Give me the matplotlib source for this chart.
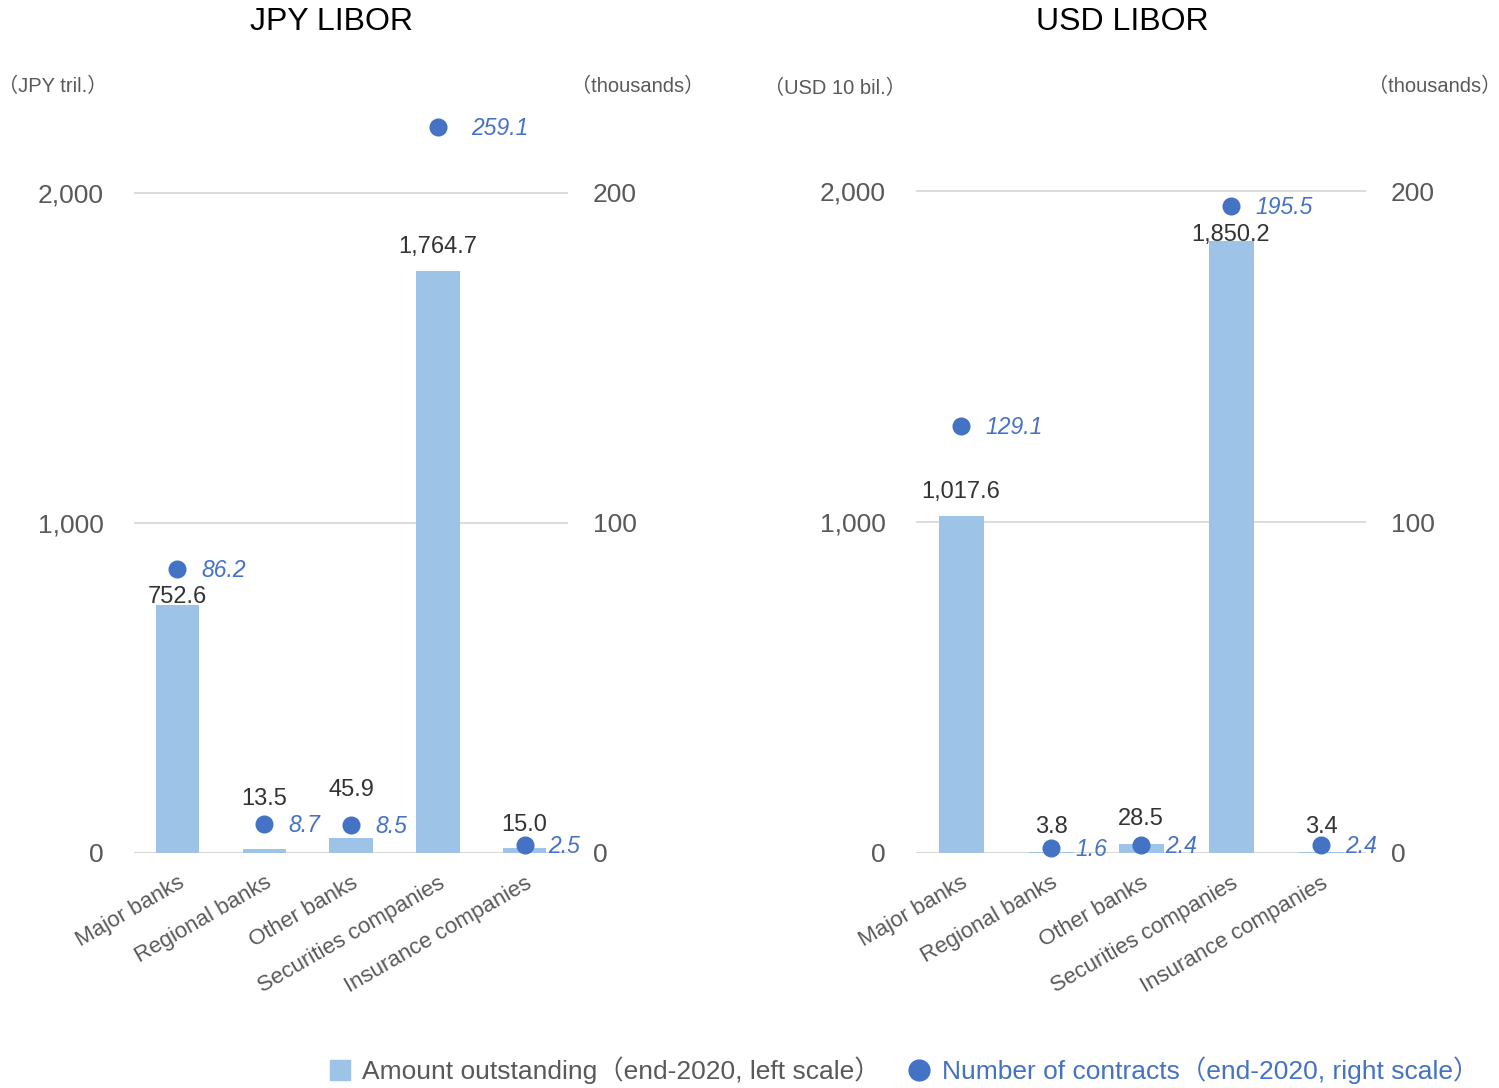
import numpy as np
import matplotlib
matplotlib.use("Agg")
import matplotlib.pyplot as plt
from matplotlib.ticker import FuncFormatter
from matplotlib.lines import Line2D

plt.rcParams['font.family'] = ['Liberation Sans', 'Noto Sans CJK JP', 'DejaVu Sans']

# ---------------- data ----------------
categories = ["Major banks", "Regional banks", "Other banks",
              "Securities companies", "Insurance companies"]
jpy_amount = [752.6, 13.5, 45.9, 1764.7, 15.0]        # JPY tril.
jpy_contracts = [86.2, 8.7, 8.5, 259.1, 2.5]         # thousands
usd_amount = [1017.6, 3.8, 28.5, 1850.2, 3.4]        # USD 10 bil.
usd_contracts = [129.1, 1.6, 2.4, 195.5, 2.4]        # thousands
left_ticks = [0, 1000, 2000]
right_ticks = [0, 100, 200]

# label offsets (pixels above bar top) – styling only
jpy_bar_lab_off = [8, 50, 48, 24, 23]
usd_bar_lab_off = [24, 25, 25, 6, 25]

BAR_C = '#9DC3E6'
DOT_C = '#4472C4'
GRID_C = '#D9D9D9'
TICK_C = '#595959'
LAB_C = '#333333'

W, H = 1499, 1088
fig = plt.figure(figsize=(W / 100, H / 100), dpi=100)
PX = 72 / 100  # points per pixel


def panel(rect, amounts, contracts, bar_offs, left_max, right_max):
    ax = fig.add_axes(rect)
    x = np.arange(len(categories))
    ax.bar(x, amounts, width=0.5, color=BAR_C, zorder=2)
    ax.set_xlim(-0.5, len(categories) - 0.5)
    ax.set_ylim(0, left_max)
    ax.set_yticks(left_ticks)
    ax.yaxis.set_major_formatter(FuncFormatter(lambda v, p: f"{int(v):,}"))
    ax.grid(axis='y', color=GRID_C, lw=1.3, zorder=0)
    ax.axhline(0, color='#D0D0D0', lw=2.2, zorder=1)
    for s in ax.spines.values():
        s.set_visible(False)
    ax.tick_params(axis='y', length=0, pad=22, labelsize=19, labelcolor=TICK_C)
    ax.tick_params(axis='x', length=0, pad=14)
    ax.set_xticks(x)
    ax.set_xticklabels(categories, rotation=30, ha='right',
                       rotation_mode='anchor', fontsize=16, color=TICK_C)
    for i, v in enumerate(amounts):
        ax.annotate(f"{v:,.1f}", (i, v), xytext=(0, bar_offs[i] * PX),
                    textcoords='offset points', ha='center', va='center',
                    fontsize=17, color=LAB_C, zorder=5)

    axr = ax.twinx()
    axr.set_ylim(0, right_max)
    axr.set_yticks(right_ticks)
    for s in axr.spines.values():
        s.set_visible(False)
    axr.tick_params(axis='y', length=0, pad=18, labelsize=19, labelcolor=TICK_C)
    yplot = np.minimum(np.array(contracts), right_max)
    axr.plot(x, yplot, 'o', ms=12, color=DOT_C, clip_on=False, zorder=4,
             linestyle='none')
    for i, (v, yp) in enumerate(zip(contracts, yplot)):
        dx = 24 if v <= right_max else 33
        axr.annotate(f"{v:.1f}", (i, yp), xytext=(dx * PX, -1.5 * PX),
                     textcoords='offset points', ha='left', va='center',
                     fontsize=16.5, color=DOT_C, style='italic', zorder=5)
    return ax, axr


panel([134 / W, 1 - 853 / H, (568 - 134) / W, (853 - 127) / H],
      jpy_amount, jpy_contracts, jpy_bar_lab_off, 2200, 220)
panel([916 / W, 1 - 853 / H, (1366 - 916) / W, (853 - 125) / H],
      usd_amount, usd_contracts, usd_bar_lab_off, 2200, 220)

# titles
fig.text(331 / W, 1 - 22 / H, "JPY LIBOR", ha='center', va='center',
         fontsize=23, color='black')
fig.text(1122 / W, 1 - 22 / H, "USD LIBOR", ha='center', va='center',
         fontsize=23, color='black')

# unit labels
unit_kw = dict(va='center', fontsize=14.5, color=TICK_C)
fig.text(-2 / W, 1 - 86 / H, "（JPY tril.）", ha='left', **unit_kw)
fig.text(704 / W, 1 - 86 / H, "（thousands）", ha='right', **unit_kw)
fig.text(764 / W, 1 - 88 / H, "（USD 10 bil.）", ha='left', **unit_kw)
fig.text(1501 / W, 1 - 86 / H, "（thousands）", ha='right', **unit_kw)

# legend
handles = [
    Line2D([], [], marker='s', color=BAR_C, ms=14, linestyle='none'),
    Line2D([], [], marker='o', color=DOT_C, ms=15, linestyle='none'),
]
labels = ["Amount outstanding（end-2020, left scale）",
          "Number of contracts（end-2020, right scale）"]
leg = fig.legend(handles, labels, loc='center', ncol=2,
                 bbox_to_anchor=(903 / W, 1 - 1070 / H), frameon=False,
                 fontsize=19, handletextpad=0.35, columnspacing=0.95,
                 handlelength=1.0)
leg.get_texts()[0].set_color(TICK_C)
leg.get_texts()[1].set_color(DOT_C)

fig.savefig("out.png", dpi=100)
